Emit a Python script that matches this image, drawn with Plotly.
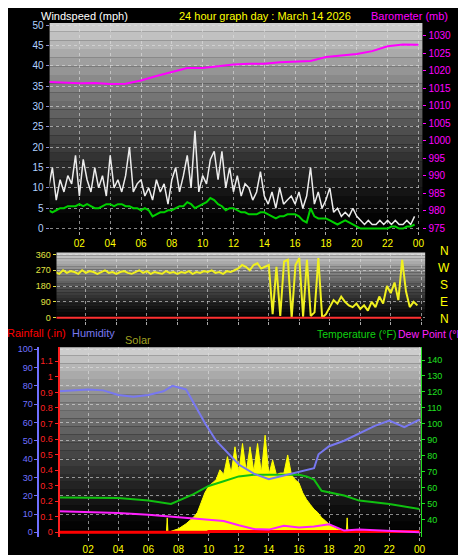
import plotly.graph_objects as go

# ---------------- data ----------------
t15 = [i * 0.25 for i in range(96)]
gust = [10,15,7,12,9,13,11,18, 8,17,12,9,15,10,13,8, 18,10,12,9,13,20,9,11,
        12,8,10,7,12,9,11,6, 12,15,9,13,18,10,24,9, 13,11,17,19,12,19,10,15,
        9,13,8,11,10,7,9,14, 8,6,9,5,10,6,7,8, 6,9,5,8,15,6,9,5,
        7,10,4,5,3,4,3,5, 3,2,1,2,1,1,2,1, 2,1,2,1,1,2,1,3]
avg = [4.5,4,4.5,5,5,5.5,5.5,5.5, 6,5.5,6,5.5,5,5,5.5,6, 6,5.5,6,6,5.5,5.5,5,5,
       4.5,5,4.5,3,3.5,4,4,4.5, 4.5,5,5.5,5.5,6.5,6,5,5.5, 6,6.5,7.5,7,6,5.5,4.5,5,
       5,4.5,4,4,3.5,3.5,3.5,4, 4,3.5,3,2.5,3,3,3.5,3.5, 3.5,3,2,1.5,5,3,2.5,2.5,
       2.5,2,1.5,1,1.5,2,1.5,1, 0.5,0,0,0,0,0,0,0, 0,0.5,0.5,0,0,0.5,0.5,1]
t_hr = list(range(25))
baro = [1016.8,1016.6,1016.4,1016.5,1016.2,1016.3,1017.2,1018.5,1019.7,1020.8,1020.8,
        1021.3,1021.8,1022,1022,1022.4,1022.6,1022.8,1023.9,1024.4,1024.8,1025.6,
        1027,1027.5,1027.4]
wdir = [260,250,270,255,265,260,250,270, 255,265,260,250,260,270,255,260,
        250,260,265,255,250,260,270,255, 265,250,260,255,250,265,255,260,
        250,260,255,265,250,260,255,265, 260,270,255,260,250,265,260,270,
        280,300,290,270,300,310,280,290, 300,20,290,10,320,330,0,300,
        340,5,330,10,30,340,0,20, 60,100,80,120,90,70,60,80,
        50,70,40,90,60,120,80,180, 140,200,100,330,150,60,90,70]
t_hum = [0,1,2,3,4,5,6,7,7.6,8.5,9.8,10.5,11.5,12,13,14,15,16,17,17.3,18,19,20,21,22,23,24]
hum = [77,77.5,78,77.5,75,74,75,77,80,78,59,50,41,37,32,29,31,33,35,42.6,47,50,54,58,61,57.4,61.5]
t_tmp = [0,2,4,6,7.5,9,10,11,12,13,14,15,16,16.5,17,17.5,18,19,20,22,24]
temp = [53.8,53.6,53.4,51.8,49.7,55.9,61,64,67,68,68,68,68,67,65,58,57,55,51.8,49.7,46.6]
t_dew = [0,3,4,6,8,10,11,12,13,14,15,16,17,18,18.5,19,20,22,24]
dew = [45.2,44.5,44,43,41.4,39.8,39,36.3,34,33.6,36,35,35.5,37,35,33,33.6,32.8,32]
t_sol = [0,7.0,7.2,7.25,7.3,8.0,8.5,9.0,9.25,9.5,9.75,10,10.25,10.5,10.75,11,11.25,11.5,11.75,
         12,12.25,12.5,12.75,13,13.25,13.5,13.75,14,14.25,14.5,14.75,15,15.25,15.5,15.75,
         16,16.25,16.5,16.75,17,17.25,17.5,17.75,18,18.5,19,19.15,19.2,19.25,19.5,24]
solar = [0,0,0,110,0,27,65,115,150,225,300,350,375,400,475,440,575,450,650,
         450,675,462,650,462,675,450,738,438,550,438,450,450,588,438,400,
         375,300,250,212,175,150,112,88,62,30,8,0,110,0,0,0]
t_rain = [0,10,10.01,24]
rain = [0,0,0.005,0.005]
hour_ticks = [2,4,6,8,10,12,14,16,18,20,22,24]
hour_labels = ["02","04","06","08","10","12","14","16","18","20","22","00"]

fig = go.Figure()
fig.add_trace(go.Scatter(x=t15, y=gust, mode="lines", line=dict(color="#ececec", width=1.5), xaxis="x", yaxis="y"))
fig.add_trace(go.Scatter(x=t15, y=avg, mode="lines", line=dict(color="#00d000", width=2), xaxis="x", yaxis="y"))
fig.add_trace(go.Scatter(x=t_hr, y=baro, mode="lines", line=dict(color="#ff00ff", width=2), xaxis="x", yaxis="y2"))
fig.add_trace(go.Scatter(x=t15, y=wdir, mode="lines", line=dict(color="#f0f020", width=2), xaxis="x2", yaxis="y3"))
fig.add_trace(go.Scatter(x=[0, 24], y=[0, 0], mode="lines", line=dict(color="#ff3030", width=2), xaxis="x2", yaxis="y3"))
fig.add_trace(go.Scatter(x=t_sol, y=solar, mode="lines", fill="tozeroy", fillcolor="#ffff00",
                         line=dict(color="#ffff00", width=1), xaxis="x3", yaxis="y4"))
fig.add_trace(go.Scatter(x=t_hum, y=hum, mode="lines", line=dict(color="#7878f0", width=2), xaxis="x3", yaxis="y8"))
fig.add_trace(go.Scatter(x=t_tmp, y=temp, mode="lines", line=dict(color="#10c010", width=2), xaxis="x3", yaxis="y6"))
fig.add_trace(go.Scatter(x=t_dew, y=dew, mode="lines", line=dict(color="#ff20ff", width=2), xaxis="x3", yaxis="y6"))
fig.add_trace(go.Scatter(x=t_rain, y=rain, mode="lines", line=dict(color="#ff0000", width=3), xaxis="x3", yaxis="y5"))

# gradient backgrounds
shapes = []
n = 24
for xr, yr in [("x domain", "y domain"), ("x2 domain", "y3 domain"), ("x3 domain", "y4 domain")]:
    for i in range(n):
        g = int(205 * (i / (n - 1)) ** 1.3)
        shapes.append(dict(type="rect", xref=xr, yref=yr, x0=0, x1=1, y0=i / n, y1=(i + 1) / n,
                           fillcolor=f"rgb({g},{g},{g})", line=dict(width=0), layer="below"))

F = "Liberation Sans, Arial, sans-serif"
grid = dict(showgrid=True, gridcolor="rgba(225,225,225,0.6)", griddash="dot", gridwidth=1, zeroline=False)
xcommon = dict(range=[0.07, 24.26], tickvals=hour_ticks, ticktext=hour_labels,
               tickfont=dict(color="#ffff00", size=10, family=F), ticks="outside", ticklen=3,
               tickcolor="#aaaaaa", **grid)

fig.update_layout(
    width=466, height=555, margin=dict(l=0, r=0, t=0, b=0),
    paper_bgcolor="black", plot_bgcolor="black", showlegend=False, shapes=shapes,
    xaxis=dict(domain=[0.0901, 0.897], anchor="y", **xcommon),
    yaxis=dict(domain=[0.6, 0.978], range=[-0.5, 50.5], dtick=5, tickfont=dict(color="#b0d0ff", size=10, family=F),
               ticks="outside", ticklen=3, tickcolor="#8888cc", **grid),
    yaxis2=dict(overlaying="y", side="right", anchor="x", range=[974.4, 1033.6], dtick=5,
                tickfont=dict(color="#ff00ff", size=10, family=F), ticks="outside", ticklen=3,
                tickcolor="#ff00ff", showgrid=False, zeroline=False),
    xaxis2=dict(domain=[0.105, 0.903], anchor="y3", showticklabels=False, **{k: v for k, v in xcommon.items() if k not in ("tickfont",)}),
    yaxis3=dict(domain=[0.436, 0.560], anchor="x2", range=[-17, 371], tickvals=[0, 90, 180, 270, 360],
                tickfont=dict(color="#e0e040", size=9, family=F), ticks="outside", ticklen=3, tickcolor="#e0e040", **grid),
    xaxis3=dict(domain=[0.1116, 0.8948], anchor="y5", **{**xcommon, "range": [0.1, 24.13]}),
    yaxis4=dict(domain=[0.0414, 0.3874], anchor="x3", range=[-37.6, 1406], visible=False, showgrid=False),
    yaxis8=dict(overlaying="y4", anchor="free", position=0.066, range=[-2.7, 101], dtick=10,
                tickfont=dict(color="#7070ff", size=9, family=F), ticks="outside", ticklen=3,
                tickcolor="#7070ff", showline=True, linecolor="#7070ff", linewidth=2, **grid),
    yaxis5=dict(overlaying="y4", anchor="x3", range=[-0.032, 1.19], dtick=0.1,
                tickfont=dict(color="#ff2020", size=9, family=F), ticks="outside", ticklen=3, tickcolor="#ff2020",
                showline=True, linecolor="#ff2020", linewidth=2, showgrid=False, zeroline=False),
    yaxis6=dict(overlaying="y4", anchor="x3", side="right", range=[28.8, 148], tickvals=[40,50,60,70,80,90,100,110,120,130,140],
                tickfont=dict(color="#20e020", size=9, family=F), ticks="outside", ticklen=3, tickcolor="#20e020",
                showline=True, linecolor="#20e020", showgrid=False, zeroline=False),
)

ann = [
    ("Windspeed (mph)", 32, -2, "#ffffff", "left", 11),
    ("24 hour graph day : March 14 2026", 259, -2, "#ffff00", "center", 11),
    ("Barometer (mb)", 445, -2, "#ff00ff", "right", 11),
    ("Rainfall (.in)", -2, 318, "#ff0000", "left", 11),
    ("Humidity", 64, 318, "#7878f0", "left", 11),
    ("Solar", 117, 326, "#a0a020", "left", 11),
    ("Temperature (°F)", 392, 319, "#10d010", "right", 10.5),
    ("Dew Point (°F)", 463, 319, "#ff20ff", "right", 10.5),
]
for txt, px, py, col, al, fs in ann:
    fig.add_annotation(text=txt, x=px / 466, y=1 - py / 555, xref="paper", yref="paper", showarrow=False,
                       xanchor=al, yanchor="top", borderpad=0, font=dict(color=col, size=fs, family=F))
for i, L in enumerate(["N", "W", "S", "E", "N"]):
    fig.add_annotation(text=L, x=440 / 466, y=1 - (243 + i * 17) / 555, xref="paper", yref="paper", showarrow=False,
                       xanchor="center", yanchor="middle", font=dict(color="#ffff00", size=12, family=F))

fig.write_html("out.html")
